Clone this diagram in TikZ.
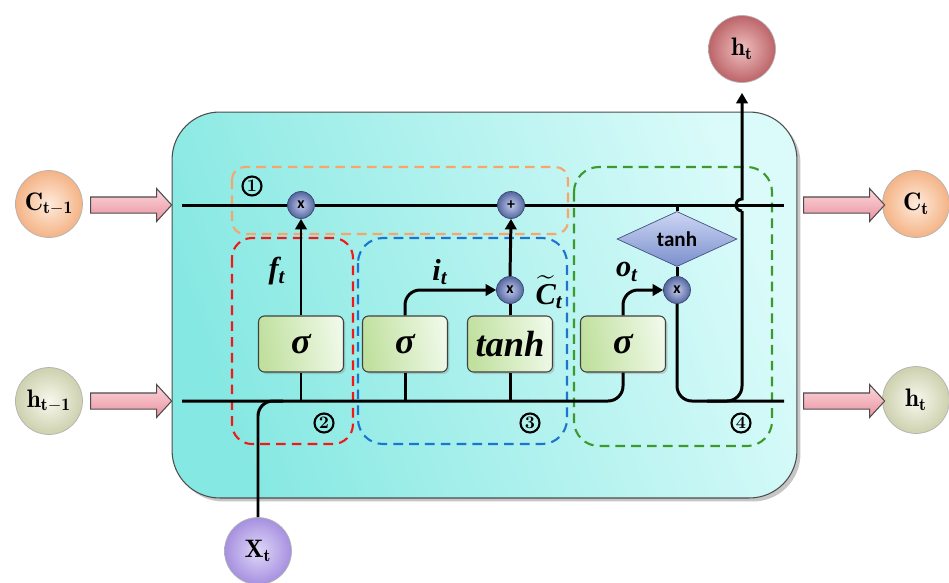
\documentclass[tikz,border=0pt]{standalone}
\usepackage{amsmath,amssymb}
\usepackage{fontspec}
\newfontfamily\calib{Carlito}
\newfontfamily\lsf{Liberation Serif}
\newcommand{\lsbi}{\lsf\bfseries\itshape}
\usetikzlibrary{shapes.geometric,shapes.arrows,arrows.meta,shadows}

\definecolor{cellL}{HTML}{86E8E2}
\definecolor{cellR}{HTML}{DAFBFA}
\definecolor{gateL}{HTML}{C0E09E}
\definecolor{gateR}{HTML}{EFF9E8}
\definecolor{opIn}{HTML}{C3CCEE}
\definecolor{opOut}{HTML}{54669F}
\definecolor{diaT}{HTML}{CDD6F4}
\definecolor{diaB}{HTML}{7A90CC}
\definecolor{pinkT}{HTML}{FCD6DC}
\definecolor{pinkB}{HTML}{E9939F}
\definecolor{dOrange}{HTML}{F7A56A}
\definecolor{dRed}{HTML}{F01818}
\definecolor{dBlue}{HTML}{1C76CF}
\definecolor{dGreen}{HTML}{3C9A2C}
\definecolor{peachIn}{HTML}{FEEBDC}
\definecolor{peachOut}{HTML}{F4B386}
\definecolor{sageIn}{HTML}{F8F8EE}
\definecolor{sageOut}{HTML}{CDD1AE}
\definecolor{roseIn}{HTML}{F0C0C0}
\definecolor{roseOut}{HTML}{BC6468}
\definecolor{lilacIn}{HTML}{E0D8F8}
\definecolor{lilacOut}{HTML}{A690E0}

\begin{document}
\begin{tikzpicture}[x=0.02cm, y=-0.02cm,
  wire/.style={line width=1.7pt, black},
  tipped/.style={-{Triangle[length=6pt,width=6.5pt]}},
  cellbox/.style={rectangle, rounded corners=0.95cm, draw=black!70, line width=0.6pt,
    minimum width=12.5cm, minimum height=7.72cm, inner sep=0pt,
    shading=axis, top color=cellR, bottom color=cellL, shading angle=-70,
    drop shadow={opacity=0.45, shadow xshift=0.07cm, shadow yshift=-0.07cm}},
  dbox/.style={line width=1.2pt, dash pattern=on 5.5pt off 3.5pt},
  gatebox/.style={rectangle, rounded corners=0.12cm, draw=black!75, line width=0.6pt,
    minimum width=1.7cm, minimum height=1.12cm, inner sep=0pt,
    shading=axis, left color=gateL, right color=gateR, shading angle=100,
    font=\huge\lsbi,
    drop shadow={opacity=0.3, shadow xshift=0.04cm, shadow yshift=-0.04cm}},
  opnode/.style={circle, minimum size=0.54cm, inner sep=0pt, draw=opOut!70!black,
    line width=0.4pt, inner color=opIn, outer color=opOut,
    text=black, font=\calib\bfseries\small},
  thbox/.style={diamond, minimum width=2.4cm, minimum height=0.7cm, inner sep=0pt,
    draw=opOut!80!black, line width=0.4pt, top color=diaT, bottom color=diaB,
    font=\calib\bfseries\large},
  stnode/.style 2 args={circle, minimum size=1.34cm, inner sep=0pt, draw=black!30,
    line width=0.4pt, font=\Large, inner color=#1, outer color=#2},
  pinkarrow/.style={single arrow, draw=black!70, line width=0.6pt,
    top color=pinkT, bottom color=pinkB,
    minimum height=1.62cm, inner xsep=0pt, inner ysep=0.15cm,
    single arrow head extend=0.17cm, single arrow tip angle=95},
  lbl/.style={font=\LARGE\lsbi, inner sep=0pt},
  num/.style={circle, draw, line width=1.2pt, minimum size=0.38cm, inner sep=0pt,
    font=\normalsize\bfseries}
]
\useasboundingbox (0,0) rectangle (949,582);

% LSTM cell body
\node[cellbox] (cell) at (484.5,305) {};

% gate regions
\draw[dbox, draw=dOrange, rounded corners=0.25cm] (232,167) rectangle (568,234);
\draw[dbox, draw=dRed, rounded corners=0.4cm] (232,238) rectangle (353,444);
\draw[dbox, draw=dBlue, rounded corners=0.5cm] (358,238) rectangle (567,444);
\draw[dbox, draw=dGreen, rounded corners=0.5cm] (574,167) rectangle (772,446);

% inputs and outputs
\node[stnode={peachIn}{peachOut}] (c0) at (49,204) {$\mathbf{C}_{\mathbf{t-1}}$};
\node[stnode={sageIn}{sageOut}] (h0) at (49,401) {$\mathbf{h}_{\mathbf{t-1}}$};
\node[stnode={peachIn}{peachOut}] (c1) at (916,204) {$\mathbf{C}_{\mathbf{t}}$};
\node[stnode={sageIn}{sageOut}] (h1) at (916,400) {$\mathbf{h}_{\mathbf{t}}$};
\node[stnode={roseIn}{roseOut}] (ht) at (742,49) {$\mathbf{h}_{\mathbf{t}}$};
\node[stnode={lilacIn}{lilacOut}] (xt) at (258,551) {$\mathbf{X}_{\mathbf{t}}$};

\node[pinkarrow] (a1) at (127.5,205) {};
\node[pinkarrow] (a2) at (127.5,401) {};
\node[pinkarrow] (a3) at (840.5,205) {};
\node[pinkarrow] (a4) at (840.5,401) {};

% pointwise operations
\node[opnode] (fx) at (301,205) {x};
\node[opnode] (plus) at (511,205) {+};
\node[opnode] (ix) at (510,290) {x};
\node[opnode] (ox) at (677,290) {x};
\node[thbox] (th) at (677,239) {tanh};

% gate layers
\node[gatebox] (s1) at (301,344) {σ};
\node[gatebox] (s2) at (405,344) {σ};
\node[gatebox] (s3) at (510,344) {tanh};
\node[gatebox] (s4) at (623,344) {σ};

% labels
\node[lbl] (lf) at (277,271) {f\textsubscript{t}};
\node[lbl] (li) at (440,272) {i\textsubscript{t}};
\node[lbl] (lc) at (549,292) {$\widetilde{\mbox{\lsbi C}}$\textsubscript{t}};
\node[lbl] (lo) at (627,272) {o\textsubscript{t}};

\node[num] (n1) at (252,186) {1};
\node[num] (n2) at (324,423) {2};
\node[num] (n3) at (530,423) {3};
\node[num] (n4) at (741,423) {4};

% wire end points
\coordinate (cin) at (182,205);
\coordinate (cout) at (784,205);
\coordinate (hin) at (182,401);
\coordinate (hout) at (784,401);
\coordinate (tap) at (677,205);
\coordinate (hop) at (742,205);

% cell state
\draw[wire] (cin) -- (fx.west);
\draw[wire] (fx.east) -- (plus.west);
\draw[wire] (plus.east) -- (cout);
\draw[wire] (tap) -- (th.north);
\draw[wire] (th.south) -- (ox.north);

% hidden state and input
\draw[wire, rounded corners=0.3cm] (hin) -- (s4.south |- hin) -- (s4.south);
\draw[wire] (s1.south |- hin) -- (s1.south);
\draw[wire] (s2.south |- hin) -- (s2.south);
\draw[wire] (s3.south |- hin) -- (s3.south);
\draw[wire, rounded corners=0.3cm] (xt.north) -- (xt.north |- hin) -- ++(25,0);

% gate outputs
\draw[wire, tipped] (s1.north) -- (fx.south);
\draw[wire, tipped, rounded corners=0.3cm] (s2.north) |- (ix.west);
\draw[wire] (s3.north) -- (ix.south);
\draw[wire, tipped] (ix.north) -- (plus.south);
\draw[wire, tipped, rounded corners=0.3cm] (s4.north) |- (ox.west);

% new hidden state
\draw[wire, rounded corners=0.3cm] (ox.south) |- (hout);
\draw[wire, rounded corners=0.3cm] ([xshift=-0.7cm]hop |- hin) -- (hop |- hin) -- ([yshift=-0.12cm]hop);
\draw[wire, tipped, shorten >=0.2cm] ([yshift=-0.12cm]hop) arc[start angle=90, end angle=270, radius=6] -- (ht.south);
\end{tikzpicture}
\end{document}
